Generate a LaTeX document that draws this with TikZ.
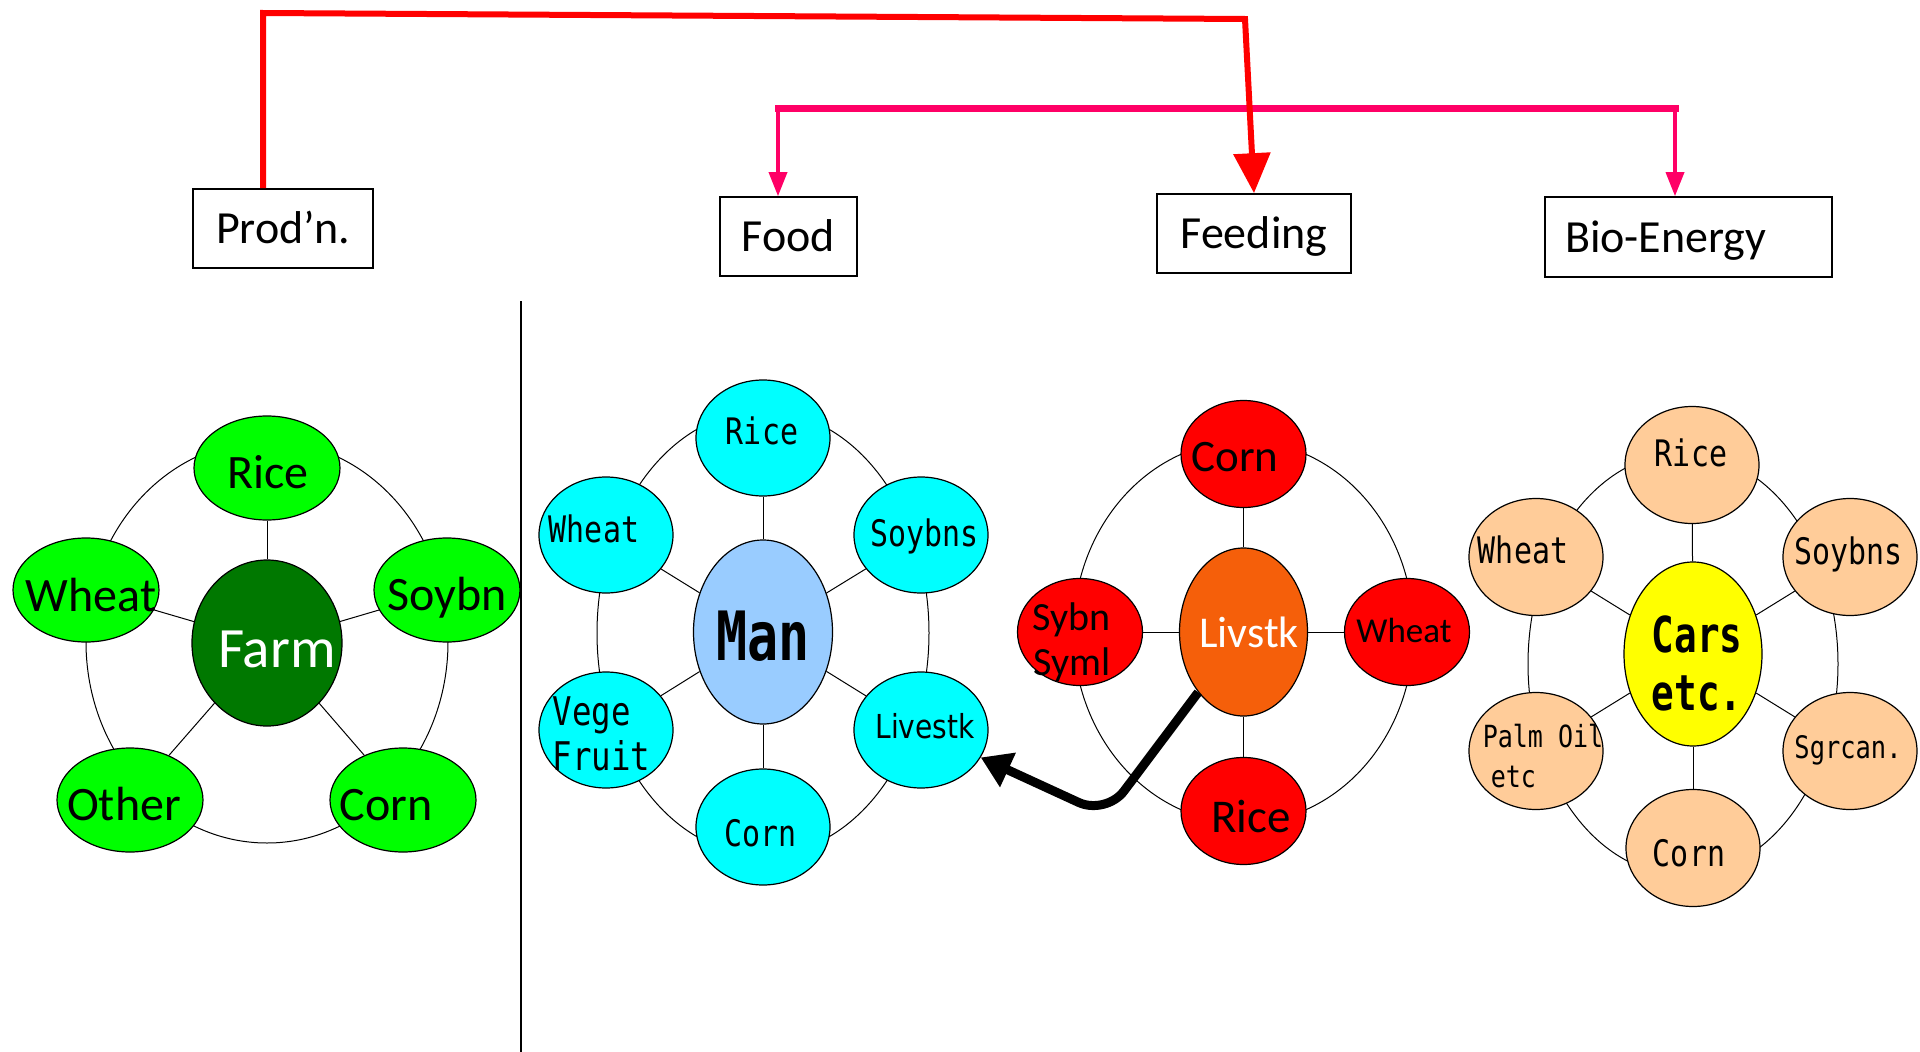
\documentclass[tikz,border=0pt]{standalone}
\usepackage{fontspec}
\setmainfont{Carlito}
\newfontfamily\gothic[FakeStretch=0.82]{DejaVu Sans Mono}
\newfontfamily\gothicb[FakeStretch=0.76]{DejaVu Sans Mono}
\newfontfamily\pgothic[FakeStretch=0.85]{DejaVu Sans}
\usepackage{tikz}
\usetikzlibrary{shapes.geometric,arrows.meta}

\definecolor{fagreen}{RGB}{0,255,0}
\definecolor{fadark}{RGB}{0,120,0}
\definecolor{focyan}{RGB}{0,255,255}
\definecolor{foblue}{RGB}{153,204,255}
\definecolor{fered}{RGB}{255,0,0}
\definecolor{feorange}{RGB}{245,95,10}
\definecolor{bipeach}{RGB}{255,204,153}
\definecolor{biyellow}{RGB}{255,255,0}
\definecolor{arrred}{RGB}{255,0,0}
\definecolor{arrpink}{RGB}{255,0,102}

\begin{document}
\begin{tikzpicture}[x=1pt,y=-1pt,
  ell/.style={ellipse, draw=black, line width=1.2pt, inner sep=0pt},
  thin/.style={line width=1pt},
  box/.style={draw, line width=1.6pt, inner sep=0pt, minimum height=79pt, text height=30pt, text depth=0pt, font=\fontsize{46}{54}\selectfont},
  calib/.style={text height=0pt, text depth=0pt, align=center, inner sep=0pt, font=\fontsize{48}{56}\selectfont},
  goth/.style={text height=0pt, text depth=0pt, align=left, inner sep=0pt, font=\gothic\fontsize{36.5}{44}\selectfont},
  fasat/.style 2 args={ell, fill=fagreen, minimum width=146pt, minimum height=104pt, label={[calib,#2]center:#1}},
  fosat/.style 2 args={ell, fill=focyan, minimum width=134pt, minimum height=116pt, label={[goth,#2]center:#1}},
  fesat/.style 2 args={ell, fill=fered, minimum width=125pt, minimum height=107pt, label={[calib,#2]center:#1}},
  bisat/.style 2 args={ell, fill=bipeach, minimum width=134pt, minimum height=117pt, label={[goth,#2]center:#1}},
  redarrow/.style={draw=arrred, line width=6pt, -{Triangle[length=40pt,width=36pt]}},
  pinkbar/.style={draw=arrpink, line width=7pt, line cap=rect},
  pinkarrow/.style={draw=arrpink, line width=3.5pt, -{Triangle[length=24pt,width=18pt]}},
  feedarrow/.style={line width=9pt, rounded corners=30pt, -{Triangle[length=30pt,width=36pt]}}
]
\useasboundingbox (0,0) rectangle (1920,1052);

% Prod'n side
\draw[thin] (267,642) ellipse [x radius=181, y radius=201];
\node[fasat={Rice}{xshift=1,yshift=-20}] (faRice) at (267,468) {};
\node[fasat={Wheat}{xshift=5,yshift=-21}] (faWheat) at (86,590) {};
\node[fasat={Soybn}{xshift=0,yshift=-20}] (faSoybn) at (447,590) {};
\node[fasat={Other}{xshift=-6,yshift=-20}] (faOther) at (130,800) {};
\node[fasat={Corn}{xshift=-17,yshift=-20}] (faCorn) at (403,800) {};
\node[ell, fill=fadark, minimum width=150pt, minimum height=166pt, label={[calib, text=white, font=\fontsize{57}{66}\selectfont, xshift=10, yshift=-24]center:Farm}] (faFarm) at (267,643) {};
\draw[thin] (faFarm) -- (faRice);
\draw[thin] (faFarm) -- (faWheat);
\draw[thin] (faFarm) -- (faSoybn);
\draw[thin] (faFarm) -- (faOther);
\draw[thin] (faFarm) -- (faCorn);

\coordinate (divT) at (521,301);
\coordinate (divB) at (521,1052);
\draw[line width=1.5pt] (divT) -- (divB);

% Food
\draw[thin] (763,633) ellipse [x radius=166, y radius=222];
\node[fosat={Rice}{xshift=-1,yshift=-6}] (foRice) at (763,438) {};
\node[fosat={Wheat}{xshift=-12,yshift=-7}] (foWheat) at (606,535) {};
\node[fosat={Soybns}{xshift=3.5,yshift=-11}] (foSoybns) at (921,535) {};
\node[fosat={Vege\\Fruit}{xshift=-4.5,yshift=-40,font=\gothic\fontsize{39.5}{45}\selectfont}] (foVege) at (606,730) {};
\node[fosat={Livestk}{xshift=4,yshift=-8,font=\pgothic\fontsize{33}{40}\selectfont}] (foLivestk) at (921,730) {};
\node[fosat={Corn}{xshift=-2.5,yshift=-19}] (foCorn) at (763,827) {};
\node[ell, fill=foblue, minimum width=139pt, minimum height=184pt, label={[goth, font=\gothicb\bfseries\fontsize{68}{80}\selectfont, yshift=-28]center:Man}] (foMan) at (763,632) {};
\draw[thin] (foMan) -- (foRice);
\draw[thin] (foMan) -- (foWheat);
\draw[thin] (foMan) -- (foSoybns);
\draw[thin] (foMan) -- (foVege);
\draw[thin] (foMan) -- (foLivestk);
\draw[thin] (foMan) -- (foCorn);

% Feeding
\draw[thin] (1243.5,632) ellipse [x radius=170, y radius=191];
\node[fesat={Corn}{xshift=-8.5,yshift=-17,font=\fontsize{45}{52}\selectfont}] (feCorn) at (1243.5,454) {};
\node[fesat={Sybn\\Syml}{xshift=-8,yshift=-43,font=\fontsize{40}{45}\selectfont}] (feSybn) at (1080,632) {};
\node[fesat={Wheat}{xshift=-3,yshift=-10,font=\fontsize{35}{42}\selectfont}] (feWheat) at (1407,632) {};
\node[fesat={Rice}{xshift=7.5,yshift=-21,font=\fontsize{47}{54}\selectfont}] (feRice) at (1243.5,811) {};
\node[ell, fill=feorange, minimum width=128pt, minimum height=168pt, label={[calib, text=white, font=\fontsize{44}{52}\selectfont, xshift=5.5, yshift=-15]center:Livstk}] (feLivstk) at (1243.5,632) {};
\draw[thin] (feLivstk) -- (feCorn);
\draw[thin] (feLivstk) -- (feSybn);
\draw[thin] (feLivstk) -- (feWheat);
\draw[thin] (feLivstk) -- (feRice);

% Bio-Energy
\draw[thin] (1683,664) ellipse [x radius=155, y radius=211];
\node[bisat={Rice}{xshift=-1,yshift=-1}] (biRice) at (1692,465) {};
\node[bisat={Wheat}{xshift=-13,yshift=-6}] (biWheat) at (1536,557) {};
\node[bisat={Soybns}{xshift=-1.5,yshift=-7}] (biSoybns) at (1850,557) {};
\node[bisat={Palm Oil\\\hspace*{8pt}etc}{xshift=7,yshift=-36,font=\gothic\fontsize{30.5}{40}\selectfont}] (biPalm) at (1536,751) {};
\node[bisat={Sgrcan.}{xshift=-2,yshift=-7,font=\gothic\fontsize{31}{38}\selectfont}] (biSgrcan) at (1850,751) {};
\node[bisat={Corn}{xshift=-4,yshift=-18}] (biCorn) at (1693,848) {};
\node[ell, fill=biyellow, minimum width=138pt, minimum height=184pt, label={[goth, font=\gothicb\bfseries\fontsize{49.5}{58}\selectfont, xshift=4, yshift=-56]center:Cars\\etc.}] (biCars) at (1693,654) {};
\draw[thin] (biCars) -- (biRice);
\draw[thin] (biCars) -- (biWheat);
\draw[thin] (biCars) -- (biSoybns);
\draw[thin] (biCars) -- (biPalm);
\draw[thin] (biCars) -- (biSgrcan);
\draw[thin] (biCars) -- (biCorn);

% headings
\node[box, minimum width=180pt] (prod) at (283,228.5) {Prod’n.};
\node[box, minimum width=137pt] (food) at (788.5,236.5) {Food};
\node[box, minimum width=194pt] (feed) at (1254,233.5) {Feeding};
\node[box, minimum height=80pt, text width=247pt, inner xsep=20pt, align=left] (bio) at (1688.5,237) {Bio-Energy};

\coordinate (pkL) at (778,108);
\coordinate (pkR) at (1675,108);
\draw[pinkbar] (pkL) -- (pkR);
\draw[pinkarrow] (pkL) -- (food.north -| pkL);
\draw[pinkarrow] (pkR) -- (bio.north -| pkR);

\coordinate (rdA) at (263,13);
\coordinate (rdB) at (1245,19);
\draw[redarrow] (prod.north -| rdA) -- (rdA) -- (rdB) -- (feed.north);

\coordinate (bend) at (1106,815);
\draw[feedarrow] (feLivstk) -- (bend) -- (foLivestk);

\end{tikzpicture}
\end{document}
